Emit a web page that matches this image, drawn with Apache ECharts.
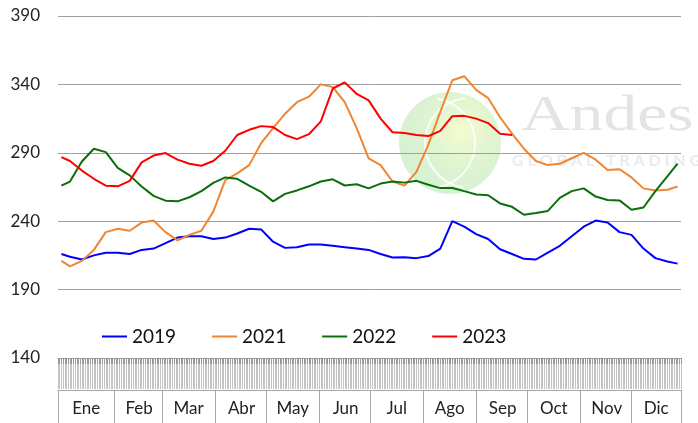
<!DOCTYPE html>
<html>
<head>
<meta charset="utf-8">
<script src="https://cdn.jsdelivr.net/npm/echarts@6/dist/echarts.min.js"></script>
<style>
  html, body { margin: 0; padding: 0; background: #fff; }
  #chart { width: 698px; height: 423px; }
</style>
</head>
<body>
<div id="chart"></div>
<script>
// dia del año (aprox. semanal)
const days = [2, 7, 14, 21, 28, 35, 42, 49, 56, 63, 70, 77, 84, 91, 98, 105, 112, 119, 126, 133,
  140, 147, 154, 161, 168, 175, 182, 189, 196, 203, 210, 217, 224, 231, 238, 245, 252, 259, 266,
  273, 280, 287, 294, 301, 308, 315, 322, 329, 336, 343, 350, 357, 363]

const months = ['Ene', 'Feb', 'Mar', 'Abr', 'May', 'Jun', 'Jul', 'Ago', 'Sep', 'Oct', 'Nov', 'Dic']
const monthStart = [0, 33, 61, 92, 122, 153, 183, 214, 245, 275, 306, 336, 365]

const yTicks = [140, 190, 240, 290, 340, 390]

const v2019 = [216, 214, 212, 215, 217, 217, 216, 219, 220, 224, 228, 229, 229, 227, 228, 231, 234.5,
  234, 225, 220.5, 221, 223, 223, 222, 221, 220, 219, 216, 213.5, 213.6, 213, 214.5, 220, 240, 236,
  230.5, 227, 219.5, 216, 212.5, 212, 217, 222, 229, 236, 240.5, 239, 232, 230, 220, 213, 210.6, 209]

const v2021 = [211, 207, 211, 219, 232, 234.5, 233, 239, 240.5, 232, 226, 230, 233, 247, 270, 275, 281,
  297, 308, 318.5, 327, 331, 340, 338, 327, 308, 286, 281, 269, 266, 276, 296, 320, 343, 346, 336,
  330, 316, 304, 293, 284, 281, 282, 286, 290, 285, 277.5, 278, 272, 264, 262.5, 263, 265.4]

const v2022 = [266, 269, 283.6, 293, 290.5, 279, 273.5, 265.4, 258.5, 255, 254.5, 257.5, 262, 268, 272,
  271, 266, 261.5, 254.5, 260, 262.5, 265.5, 269, 270.6, 266.1, 267, 264, 267.5, 269, 268.2, 269.5,
  266.6, 264.2, 264.2, 262, 259.5, 259, 253, 250.5, 244.7, 246, 247.5, 257, 262, 264, 258, 255.5,
  255.2, 248.4, 250, 262, 272.7, 282]

const v2023 = [286.9, 284, 277, 271, 266, 265.5, 269.5, 283, 288, 289.8, 285, 282, 280.5, 284, 291.5,
  303, 306.8, 309.5, 308.8, 303, 300, 303.6, 313, 337, 341.5, 333, 328.3, 315, 305, 304.4, 303,
  302.2, 306, 316.8, 317, 315, 311.7, 304, 303]

const seriesDefs = [
  { name: '2019', values: v2019, color: '#0000ff' },
  { name: '2021', values: v2021, color: '#f08532' },
  { name: '2022', values: v2022, color: '#0b6e0b' },
  { name: '2023', values: v2023, color: '#ff0000' }
]

const dayCats = []
for (let i = 0; i < 365; i++) dayCats.push('d' + i)

const labelIdx = months.map((m, i) => Math.floor((monthStart[i] + monthStart[i + 1]) / 2))

const font = 'Lato, "Liberation Sans", sans-serif'

const chart = echarts.init(document.getElementById('chart'), null, { renderer: 'canvas' })

const option = {
  animation: false,
  backgroundColor: '#fff',
  textStyle: { fontFamily: font },
  grid: { left: 58, right: 17, top: 16, bottom: 65 },
  legend: {
    left: 102,
    top: 327,
    padding: 0,
    itemGap: 36,
    itemWidth: 25,
    itemHeight: 2,
    icon: 'rect',
    textStyle: { fontSize: 19, color: '#111', fontFamily: font },
    data: seriesDefs.map(s => s.name)
  },
  graphic: [
    {
      type: 'circle',
      z: 0,
      shape: { cx: 450, cy: 143, r: 51 },
      style: {
        fill: new echarts.graphic.RadialGradient(0.62, 0.38, 0.75, [
          { offset: 0, color: 'rgba(246,252,205,0.95)' },
          { offset: 0.5, color: 'rgba(210,240,195,0.75)' },
          { offset: 1, color: 'rgba(185,230,185,0.6)' }
        ])
      }
    },
    {
      type: 'arc', z: 0,
      shape: { cx: 470, cy: 143, r: 45, startAngle: 1.7, endAngle: 4.6 },
      style: { stroke: 'rgba(255,255,255,0.8)', lineWidth: 2, fill: null }
    },
    {
      type: 'arc', z: 0,
      shape: { cx: 430, cy: 143, r: 45, startAngle: -1.4, endAngle: 1.4 },
      style: { stroke: 'rgba(255,255,255,0.8)', lineWidth: 2, fill: null }
    },
    {
      type: 'text', z: 0,
      x: 521, y: 92,
      scaleX: 1.35,
      style: {
        text: 'Andes',
        fontFamily: '"Liberation Serif", "DejaVu Serif", serif',
        fontSize: 50,
        fill: '#e4e4e4'
      }
    },
    {
      type: 'text', z: 0,
      x: 512, y: 153,
      style: {
        text: 'G L O B A L   T R A D I N G',
        fontFamily: font,
        fontWeight: 'bold',
        fontSize: 16,
        fill: '#ebebeb'
      }
    }
  ],
  xAxis: [
    {
      // eje de valores para las series
      type: 'value',
      min: 0,
      max: 365,
      show: false
    },
    {
      // rayado diario
      type: 'category',
      data: dayCats,
      boundaryGap: true,
      position: 'bottom',
      axisLine: { show: true, lineStyle: { color: '#999', width: 1 } },
      axisTick: { show: true, interval: 0, length: 31, lineStyle: { color: '#c4c4c4', width: 1 } },
      axisLabel: { show: false },
      splitLine: { show: false }
    },
    {
      // banda oscura superior del rayado
      type: 'category',
      data: dayCats,
      boundaryGap: true,
      position: 'bottom',
      axisLine: { show: false },
      axisTick: { show: true, interval: 0, length: 6, lineStyle: { color: '#999', width: 1 } },
      axisLabel: { show: false },
      splitLine: { show: false }
    },
    {
      // meses
      type: 'category',
      data: dayCats,
      boundaryGap: true,
      position: 'bottom',
      offset: 32,
      axisLine: { show: true, lineStyle: { color: '#a6a6a6', width: 1 } },
      axisTick: {
        show: true,
        length: 33,
        interval: idx => monthStart.includes(idx),
        lineStyle: { color: '#a6a6a6', width: 1 }
      },
      axisLabel: {
        show: true,
        interval: idx => labelIdx.includes(idx),
        formatter: (val, idx) => months[labelIdx.indexOf(idx)] || '',
        fontSize: 17,
        color: '#222',
        margin: 10,
        fontFamily: font
      },
      splitLine: { show: false }
    }
  ],
  yAxis: {
    type: 'value',
    min: yTicks[0],
    max: yTicks[yTicks.length - 1],
    interval: 50,
    axisLine: { show: false },
    axisTick: { show: false },
    axisLabel: { fontSize: 17, color: '#222', margin: 18, fontFamily: font },
    splitLine: { show: true, lineStyle: { color: '#a0a0a0', width: 1 } }
  },
  series: seriesDefs.map(s => ({
    name: s.name,
    type: 'line',
    xAxisIndex: 0,
    z: 5,
    showSymbol: false,
    symbol: 'none',
    lineStyle: { color: s.color, width: 2 },
    itemStyle: { color: s.color },
    data: s.values.map((v, i) => [days[i], v])
  }))
}

chart.setOption(option)
</script>
</body>
</html>
